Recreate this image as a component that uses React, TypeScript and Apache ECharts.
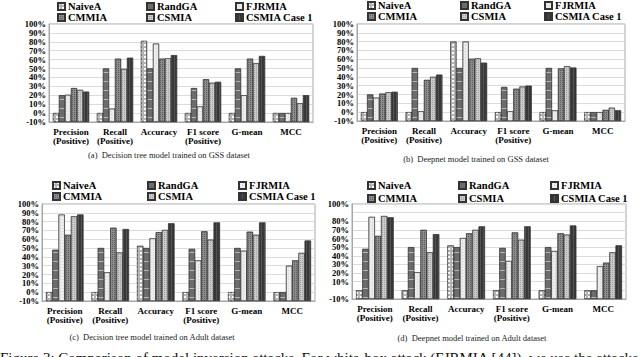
import React, { useEffect, useRef } from "react";
import * as echarts from "echarts";

const categories = ["Precision\n(Positive)", "Recall\n(Positive)", "Accuracy", "F1 score\n(Positive)", "G-mean", "MCC"];
const seriesNames = ["NaiveA", "RandGA", "FJRMIA", "CMMIA", "CSMIA", "CSMIA Case 1"];
const AXIS_FLOOR = -10;
const yTicks = [-10, 0, 10, 20, 30, 40, 50, 60, 70, 80, 90, 100];

// values in %, rows follow seriesNames, columns follow categories
const dtGss = [
  [0, 0, 81, 0, 0, 0],
  [20, 50, 50, 28, 50, 0],
  [20.5, 5, 78, 7.5, 20, 0],
  [28, 61, 61, 38, 61, 17],
  [26, 49.5, 61.5, 34, 56, 11],
  [24, 62, 65, 35, 64, 20],
];
const dnGss = [
  [0, 0, 80, 0, 0, 0],
  [20, 50, 50, 28.5, 50, 0],
  [16.5, 1, 80, 1, 2, 0],
  [21, 36.5, 60.5, 26.5, 49.5, 2.5],
  [22.5, 40, 61, 29, 52, 5],
  [23, 42.5, 56, 30, 50.5, 2],
];
const dtAdult = [
  [0, 0, 52.5, 0, 0, 0],
  [48, 50, 50, 49, 50, 0],
  [88, 22.5, 61, 36, 47, 30],
  [65, 73, 68, 69, 68.5, 36],
  [86, 45, 70.5, 59.5, 65, 44.5],
  [88, 71.5, 78, 79, 79, 58.5],
];
const dnAdult = [
  [0, 0, 52, 0, 0, 0],
  [48, 50, 50, 49, 50, 0],
  [85, 21, 60.5, 34, 45.5, 28],
  [63, 70, 66, 67, 66, 32],
  [86, 44, 70, 58.5, 64.5, 44],
  [84.5, 65, 74, 74, 75, 52],
];
const panelData = [dtGss, dnGss, dtAdult, dnAdult];
const captions = [
  "(a)  Decision tree model trained on GSS dataset",
  "(b)  Deepnet model trained on GSS dataset",
  "(c)  Decision tree model trained on Adult dataset",
  "(d)  Deepnet model trained on Adult dataset",
];
const figureCaption =
  "Figure 3: Comparison of model inversion attacks. For white-box attack (FJRMIA [44]), we use the attacked";

const layout = [
  { left: 49, right: 313, top: 24, bottom: 122, legX: [57, 146, 235], legY: [6, 17], capX: 169, capY: 155 },
  { left: 357, right: 625, top: 24, bottom: 121, legX: [367, 460, 544], legY: [5, 16], capX: 476, capY: 159 },
  { left: 42, right: 315, top: 204, bottom: 301, legX: [52, 147, 238], legY: [185, 196], capX: 152, capY: 337 },
  { left: 352, right: 626, top: 204, bottom: 299, legX: [367, 458, 550], legY: [185, 198], capX: 472, capY: 338 },
];

const serif = "Times New Roman, Liberation Serif, serif";

const seriesStyles: any[] = [
  { color: "#b4b4b4", decal: { symbol: "rect", symbolSize: 1, color: "rgba(255,255,255,0.95)", dashArrayX: [2, 2], dashArrayY: [2, 2] } },
  { color: "#6c6c6c", decal: { symbol: "rect", symbolSize: 1, color: "rgba(190,190,190,0.9)", dashArrayX: [1, 0], dashArrayY: [1, 8] } },
  { color: "#ececec", decal: { symbol: "rect", symbolSize: 1, color: "rgba(200,200,200,0.7)", dashArrayX: [1, 2], dashArrayY: [1, 2] } },
  { color: "#8c8c8c", decal: { symbol: "rect", symbolSize: 1, color: "rgba(80,80,80,0.8)", dashArrayX: [1, 1], dashArrayY: [1, 1] } },
  { color: "#cbcbcb", decal: { symbol: "rect", symbolSize: 1, color: "rgba(150,150,150,0.8)", dashArrayX: [1, 1], dashArrayY: [1, 1] } },
  { color: "#383838", decal: { symbol: "rect", symbolSize: 1, color: "rgba(90,90,90,0.8)", dashArrayX: [1, 2], dashArrayY: [1, 0] } },
];

export default function App() {
  const ref = useRef<HTMLDivElement>(null);
  useEffect(() => {
    if (!ref.current) return;
    const chart = echarts.init(ref.current, null, { renderer: "svg" });
    const grid = layout.map((l) => ({
      left: l.left,
      top: l.top,
      width: l.right - l.left,
      height: l.bottom - l.top,
      show: true,
      borderColor: "#a6a6a6",
      borderWidth: 1,
      backgroundColor: "transparent",
    }));
    const xAxis = layout.map((_, i) => ({
      type: "category",
      gridIndex: i,
      data: categories,
      axisTick: { show: false },
      axisLine: { show: true, lineStyle: { color: "#a6a6a6", width: 1 } },
      axisLabel: {
        interval: 0,
        fontFamily: serif,
        fontWeight: "bold",
        fontSize: 9,
        lineHeight: 9,
        color: "#000",
        margin: 5,
      },
    }));
    const yAxis = layout.map((_, i) => ({
      type: "value",
      gridIndex: i,
      min: yTicks[0] - AXIS_FLOOR,
      max: yTicks[yTicks.length - 1] - AXIS_FLOOR,
      interval: 10,
      axisLine: { show: true, lineStyle: { color: "#a6a6a6" } },
      axisTick: { show: false },
      splitLine: { show: true, lineStyle: { color: "#dcdcdc", width: 1 } },
      axisLabel: {
        formatter: (v: number) => `${Math.round(v + AXIS_FLOOR)}%`,
        fontFamily: serif,
        fontWeight: "bold",
        fontSize: 8.5,
        lineHeight: 8,
        color: "#000",
        margin: 3,
        showMinLabel: true,
        showMaxLabel: true,
        hideOverlap: false,
      },
    }));
    const series: any[] = [];
    panelData.forEach((rows, p) => {
      rows.forEach((vals, s) => {
        series.push({
          type: "bar",
          name: seriesNames[s],
          xAxisIndex: p,
          yAxisIndex: p,
          data: vals.map((v) => v - AXIS_FLOOR),
          barGap: "0%",
          barCategoryGap: "18%",
          itemStyle: { ...seriesStyles[s], borderColor: "#333", borderWidth: 0.5 },
        });
      });
    });
    const legend: any[] = [];
    layout.forEach((l) => {
      seriesNames.forEach((name, s) => {
        legend.push({
          data: [name],
          left: l.legX[s % 3],
          top: l.legY[Math.floor(s / 3)] - 5,
          padding: 0,
          itemWidth: 7,
          itemHeight: 7,
          icon: "rect",
          selectedMode: false,
          textStyle: { fontFamily: serif, fontWeight: "bold", fontSize: 10.5, color: "#000", padding: [0, 0, 0, -2] },
        });
      });
    });
    const graphic: any[] = layout.map((l, i) => ({
      type: "text",
      x: l.capX,
      y: l.capY,
      style: {
        text: captions[i],
        fontFamily: serif,
        fontSize: 8.5,
        fill: "#222",
        textAlign: "center",
        textVerticalAlign: "middle",
      },
    }));
    graphic.push({
      type: "text",
      x: 0,
      y: 350,
      style: { text: figureCaption, fontFamily: serif, fontSize: 15, fill: "#111", textAlign: "left", textVerticalAlign: "top" },
    });
    chart.setOption({
      animation: false,
      backgroundColor: "#fff",
      grid,
      xAxis,
      yAxis,
      series,
      legend,
      graphic,
    });
    return () => chart.dispose();
  }, []);
  return <div ref={ref} style={{ position: "fixed", left: 0, top: 0, width: 640, height: 357 }} />;
}
